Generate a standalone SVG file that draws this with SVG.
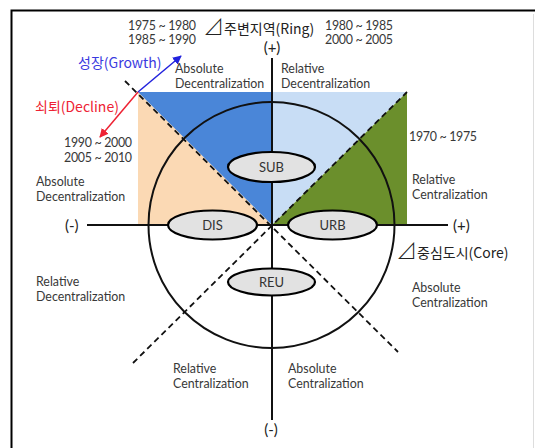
<svg xmlns="http://www.w3.org/2000/svg" width="535" height="448" viewBox="0 0 535 448">
<defs>
<style>
text{font-family:Lato,"Noto Sans",sans-serif;font-size:12.4px;fill:#383838}
.big{font-family:"Noto Sans CJK KR","Noto Sans",sans-serif;font-size:14px;fill:#222}
.par{font-family:Lato,sans-serif;font-size:15px;fill:#222}
.tri{font-size:21px;font-weight:300}
.ax{stroke:#111;stroke-width:2;fill:none}
.dash{stroke:#111;stroke-width:1.8;stroke-dasharray:6 4;fill:none}
.node ellipse{fill:#e2e2e2;stroke:#000;stroke-width:2.2}
.node text{text-anchor:middle;font-size:13px;fill:#333}
</style>
<marker id="ab" viewBox="0 0 10 10" refX="9" refY="5" markerWidth="6" markerHeight="6" orient="auto"><path d="M0,0L10,5L0,10z" fill="#2222dd"/></marker>
<marker id="ar" viewBox="0 0 10 10" refX="9" refY="5" markerWidth="6" markerHeight="6" orient="auto"><path d="M0,0L10,5L0,10z" fill="#ee2233"/></marker>
</defs>
<rect width="535" height="448" fill="#fff"/>
<path d="M11.5,448V10.5H535" stroke="#000" stroke-width="2" fill="none"/>
<line x1="533.5" y1="14" x2="533.5" y2="448" stroke="#ddd" stroke-width="1"/>
<g id="regions">
<polygon points="138,92 138,225 272,225" fill="#fbd9b4"/>
<polygon points="138,92 272,92 272,225" fill="#4a86d8"/>
<polygon points="272,92 407,92 272,225" fill="#c8ddf5"/>
<polygon points="407,92 407,225 272,225" fill="#6b8f2c"/>
</g>
<g id="connectors">
<line class="ax" x1="272" y1="58" x2="272" y2="420"/>
<line class="ax" x1="87" y1="225" x2="448" y2="225"/>
<circle class="ax" cx="271.5" cy="225" r="123" stroke-width="2.4"/>
<line class="dash" x1="125" y1="81" x2="398" y2="352"/>
<line class="dash" x1="133" y1="363" x2="407" y2="92"/>
<line x1="138" y1="92" x2="181" y2="56" stroke="#2222dd" stroke-width="1.5" marker-end="url(#ab)"/>
<line x1="138" y1="92" x2="100" y2="137" stroke="#ee2233" stroke-width="1.5" marker-end="url(#ar)"/>
</g>
<g id="SUB" class="node"><ellipse cx="271.5" cy="167" rx="43.5" ry="15"/><text x="271.5" y="171.5">SUB</text></g>
<g id="DIS" class="node"><ellipse cx="212.5" cy="225" rx="44.5" ry="14.5"/><text x="212.5" y="229.5">DIS</text></g>
<g id="URB" class="node"><ellipse cx="332.5" cy="225" rx="44.5" ry="14.5"/><text x="332.5" y="229.5">URB</text></g>
<g id="REU" class="node"><ellipse cx="271.5" cy="282" rx="43.5" ry="13.5"/><text x="271.5" y="286.5">REU</text></g>
<g id="labels">
<text x="128" y="30" textLength="68">1975 ~ 1980</text>
<text x="128" y="44" textLength="68">1985 ~ 1990</text>
<text class="big" x="203" y="34"><tspan class="tri">⊿</tspan>주변지역(Ring)</text>
<text x="325" y="30" textLength="68">1980 ~ 1985</text>
<text x="325" y="44" textLength="68">2000 ~ 2005</text>
<text class="par" x="272" y="53" text-anchor="middle">(+)</text>
<text class="big" x="78" y="68" style="fill:#3a3ae0">성장(Growth)</text>
<text class="big" x="35" y="112" style="fill:#ee2233">쇠퇴(Decline)</text>
<text x="175" y="73">Absolute</text>
<text x="175" y="88">Decentralization</text>
<text x="281" y="73">Relative</text>
<text x="281" y="88">Decentralization</text>
<text x="409" y="141" textLength="68">1970 ~ 1975</text>
<text x="64" y="147" textLength="68">1990 ~ 2000</text>
<text x="64" y="162" textLength="68">2005 ~ 2010</text>
<text x="36" y="186">Absolute</text>
<text x="36" y="201">Decentralization</text>
<text x="412" y="184">Relative</text>
<text x="412" y="199">Centralization</text>
<text class="par" x="65" y="231">(-)</text>
<text class="par" x="453" y="231">(+)</text>
<text class="big" x="396" y="258"><tspan class="tri">⊿</tspan>중심도시(Core)</text>
<text x="36" y="286">Relative</text>
<text x="36" y="301">Decentralization</text>
<text x="412" y="292">Absolute</text>
<text x="412" y="307">Centralization</text>
<text x="173" y="373">Relative</text>
<text x="173" y="388">Centralization</text>
<text x="288" y="373">Absolute</text>
<text x="288" y="388">Centralization</text>
<text class="par" x="271" y="435" text-anchor="middle">(-)</text>
</g>
</svg>
